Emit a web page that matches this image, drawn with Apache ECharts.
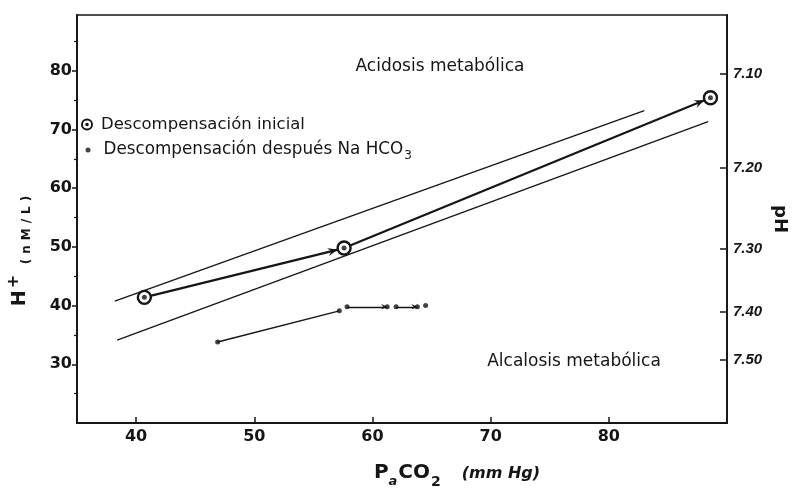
<!DOCTYPE html>
<html>
<head>
<meta charset="utf-8">
<script src="https://cdn.jsdelivr.net/npm/echarts@6/dist/echarts.min.js"></script>
<style>
  html, body { margin: 0; padding: 0; background: #fff; }
  #chart { width: 793px; height: 488px; }
</style>
</head>
<body>
<div id="chart"></div>
<script>
// ---- data ----
const xTicks = [40, 50, 60, 70, 80];
const hTicks = [30, 40, 50, 60, 70, 80];
const hMinorTicks = [25, 35, 45, 55, 65, 75, 85];
const pHLabels = ['7.10', '7.20', '7.30', '7.40', '7.50'];
const pHAtH = [79.5, 63.4, 49.6, 38.9, 30.7]; // H+ level where each pH tick sits

// Descompensación inicial (circled points)
const inicialX = [40.7, 57.6, 88.6];
const inicialY = [41.4, 49.8, 75.4];

// Descompensación después Na HCO3 (small dots)
const despuesX = [46.9, 57.2, 57.85, 61.25, 62.0, 63.8, 64.5];
const despuesY = [33.8, 39.1, 39.8, 39.8, 39.8, 39.8, 40.0];
const despuesSegments = [[0, 1], [2, 3], [4, 5]];
const despuesArrowSegments = [[2, 3], [4, 5]];

// reference band lines
const bandUpperX = [38.2, 83.0];
const bandUpperY = [40.75, 73.2];
const bandLowerX = [38.4, 88.4];
const bandLowerY = [34.1, 71.35];

const nameInicial = 'Descompensación inicial';
const nameDespues = 'Descompensación después Na HCO3';

// ---- build ----
const ink = '#151515';
const pts = (xs, ys) => xs.map((x, i) => [x, ys[i]]);
const inicialPts = pts(inicialX, inicialY);
const despuesPts = pts(despuesX, despuesY);
const inicialArrows = inicialPts.slice(1).map((p, i) => [inicialPts[i][0], inicialPts[i][1], p[0], p[1]]);
const despuesArrows = despuesArrowSegments.map(([a, b]) => [despuesX[a], despuesY[a], despuesX[b], despuesY[b]]);
const despuesLines = despuesSegments.map(([a, b]) => ({ coords: [despuesPts[a], despuesPts[b]] }));

function arrowRenderer(offset, len, half) {
  return function (params, api) {
    const p0 = api.coord([api.value(0), api.value(1)]);
    const p1 = api.coord([api.value(2), api.value(3)]);
    let dx = p1[0] - p0[0], dy = p1[1] - p0[1];
    const L = Math.sqrt(dx * dx + dy * dy) || 1;
    dx /= L; dy /= L;
    const nx = -dy, ny = dx;
    const tip = [p1[0] - dx * offset, p1[1] - dy * offset];
    const base = [tip[0] - dx * len, tip[1] - dy * len];
    const notch = [tip[0] - dx * len * 0.65, tip[1] - dy * len * 0.65];
    return {
      type: 'polygon',
      shape: { points: [tip, [base[0] + nx * half, base[1] + ny * half], notch, [base[0] - nx * half, base[1] - ny * half]] },
      style: { fill: ink }
    };
  };
}

const ringIcon = 'path://M0,10A10,10 0 1,1 20,10A10,10 0 1,1 0,10ZM3.2,10A6.8,6.8 0 1,0 16.8,10A6.8,6.8 0 1,0 3.2,10ZM7,10A3,3 0 1,1 13,10A3,3 0 1,1 7,10Z';

const lightFont = '"DejaVu Sans", sans-serif';
const boldFont = '"DejaVu Sans", sans-serif';
const nStyle = { fontFamily: boldFont, fontWeight: 'bold', fontSize: 12, color: ink, lineHeight: 14, verticalAlign: 'top', padding: [15, 2.5, 0, 2.5] };

const chart = echarts.init(document.getElementById('chart'), null, { renderer: 'canvas' });
chart.setOption({
  backgroundColor: '#ffffff',
  animation: false,
  grid: { left: 77, right: 66, top: 15, bottom: 65, show: true, borderColor: ink, borderWidth: 1.6, backgroundColor: 'transparent', containLabel: false, outerBoundsMode: 'none' },
  legend: [
    {
      data: [{ name: nameInicial, icon: ringIcon }],
      left: 81, top: 116, padding: 0, itemWidth: 12, itemHeight: 12,
      itemStyle: { color: ink, borderWidth: 0 },
      textStyle: { color: ink, fontFamily: lightFont, fontSize: 16.5, padding: [0, 0, 0, 3] },
      selectedMode: false
    },
    {
      data: [{ name: nameDespues, icon: 'circle' }],
      left: 85.5, top: 141, padding: 0, itemWidth: 5, itemHeight: 5,
      itemStyle: { color: ink, borderWidth: 0 },
      formatter: () => '{t|Descompensación después Na HCO}{sub|3}',
      textStyle: {
        color: ink, fontFamily: lightFont, fontSize: 16.5, padding: [0, 0, 0, 8],
        rich: {
          t: { fontFamily: lightFont, fontSize: 16.8, color: ink, lineHeight: 18, verticalAlign: 'top' },
          sub: { fontFamily: lightFont, fontSize: 12, color: ink, lineHeight: 12, verticalAlign: 'top', padding: [9, 0, 0, 1] }
        }
      },
      selectedMode: false
    }
  ],
  xAxis: {
    type: 'value', min: 35, max: 90,
    axisLine: { show: true, lineStyle: { color: ink, width: 1.8 } },
    axisTick: { show: true, inside: true, length: 6, customValues: xTicks, lineStyle: { color: ink, width: 1.5 } },
    axisLabel: { customValues: xTicks, color: ink, fontFamily: boldFont, fontWeight: 'bold', fontSize: 16, margin: 6 },
    splitLine: { show: false },
    name: '{b0|P}{sa|a}{b|CO}{s2|2}{it|(mm Hg)}',
    nameLocation: 'middle', nameGap: 40,
    nameTextStyle: {
      rich: {
        b0: { fontFamily: boldFont, fontWeight: 'bold', fontSize: 20, color: ink, lineHeight: 22, verticalAlign: 'top', padding: [0, 0, 0, 110] },
        b: { fontFamily: boldFont, fontWeight: 'bold', fontSize: 20, color: ink, lineHeight: 22, verticalAlign: 'top' },
        sa: { fontFamily: boldFont, fontWeight: 'bold', fontStyle: 'italic', fontSize: 13, color: ink, lineHeight: 13, verticalAlign: 'top', padding: [12, 1, 0, 0] },
        s2: { fontFamily: boldFont, fontWeight: 'bold', fontSize: 14, color: ink, lineHeight: 14, verticalAlign: 'top', padding: [12, 0, 0, 1] },
        it: { fontFamily: boldFont, fontWeight: 'bold', fontStyle: 'italic', fontSize: 16, color: ink, lineHeight: 22, verticalAlign: 'top', padding: [3, 0, 0, 21] }
      }
    }
  },
  yAxis: [
    {
      type: 'value', position: 'left', min: 20, max: 89.5,
      axisLine: { show: true, lineStyle: { color: ink, width: 1.8 } },
      axisTick: { show: true, inside: false, length: 5, customValues: hTicks, lineStyle: { color: ink, width: 1.5 } },
      axisLabel: { customValues: hTicks, color: ink, fontFamily: boldFont, fontWeight: 'bold', fontSize: 16, margin: 5 },
      splitLine: { show: false },
      name: '{h|H}{p|+}{n|(}{n|n}{n|M}{n|/}{n|L}{e|)}',
      nameLocation: 'middle', nameGap: 51,
      nameTextStyle: {
        rich: {
          h: { fontFamily: boldFont, fontWeight: 'bold', fontSize: 19, color: ink, lineHeight: 20, verticalAlign: 'top', padding: [5, 0, 0, 0] },
          p: { fontFamily: boldFont, fontWeight: 'bold', fontSize: 16, color: ink, lineHeight: 16, verticalAlign: 'top', padding: [0, 8, 0, 2] },
          n: nStyle,
          e: Object.assign({}, nStyle, { padding: [15, 64, 0, 2.5] })
        }
      }
    },
    {
      type: 'value', position: 'left', min: 20, max: 89.5,
      axisLine: { show: false },
      axisTick: { show: true, inside: false, length: 3, customValues: hMinorTicks, lineStyle: { color: ink, width: 1.2 } },
      axisLabel: { show: false },
      splitLine: { show: false }
    },
    {
      type: 'value', position: 'right', min: 20, max: 89.5,
      axisLine: { show: true, lineStyle: { color: ink, width: 1.8 } },
      axisTick: { show: true, inside: true, length: 7, customValues: pHAtH, lineStyle: { color: ink, width: 1.5 } },
      axisLabel: {
        customValues: pHAtH, color: ink, fontFamily: '"Liberation Sans", sans-serif', fontWeight: 'bold', fontStyle: 'italic', fontSize: 15, margin: 6,
        formatter: (v) => { const i = pHAtH.indexOf(v); return i >= 0 ? pHLabels[i] : ''; }
      },
      splitLine: { show: false },
      name: 'pH', nameLocation: 'middle', nameGap: 44, nameRotate: -90, nameMoveOverlap: false,
      nameTextStyle: { fontFamily: boldFont, fontWeight: 'bold', fontSize: 18, color: ink }
    }
  ],
  graphic: [
    { type: 'text', x: 440, y: 67, style: { text: 'Acidosis metabólica', font: '17px "DejaVu Sans"', fill: ink, textAlign: 'center', textVerticalAlign: 'middle' } },
    { type: 'text', x: 574, y: 362, style: { text: 'Alcalosis metabólica', font: '17px "DejaVu Sans"', fill: ink, textAlign: 'center', textVerticalAlign: 'middle' } }
  ],
  series: [
    {
      name: 'bandUpper', type: 'line', data: pts(bandUpperX, bandUpperY), symbol: 'none',
      lineStyle: { color: ink, width: 1.3 }, z: 2, silent: true
    },
    {
      name: 'bandLower', type: 'line', data: pts(bandLowerX, bandLowerY), symbol: 'none',
      lineStyle: { color: ink, width: 1.3 }, z: 2, silent: true
    },
    {
      name: nameDespues + ' lines', type: 'lines', coordinateSystem: 'cartesian2d',
      data: despuesLines, lineStyle: { color: ink, width: 1.4, opacity: 1 }, z: 3, silent: true
    },
    {
      name: nameDespues + ' arrows', type: 'custom', coordinateSystem: 'cartesian2d',
      renderItem: arrowRenderer(0, 6, 2.8), data: despuesArrows,
      encode: { x: [0, 2], y: [1, 3] }, z: 4, silent: true
    },
    {
      name: nameDespues, type: 'scatter', data: despuesPts, symbol: 'circle', symbolSize: 5,
      itemStyle: { color: ink }, z: 5
    },
    {
      name: nameInicial + ' arrows', type: 'custom', coordinateSystem: 'cartesian2d',
      renderItem: arrowRenderer(6.5, 10, 4), data: inicialArrows,
      encode: { x: [0, 2], y: [1, 3] }, z: 4, silent: true
    },
    {
      name: nameInicial, type: 'line', data: inicialPts, symbol: 'circle', symbolSize: 13,
      lineStyle: { color: ink, width: 2.2 },
      itemStyle: { color: '#ffffff', borderColor: ink, borderWidth: 2.4 }, z: 5
    },
    {
      name: nameInicial + ' centres', type: 'scatter', data: inicialPts, symbol: 'circle', symbolSize: 5,
      itemStyle: { color: ink }, z: 6, silent: true
    }
  ]
});
</script>
</body>
</html>
